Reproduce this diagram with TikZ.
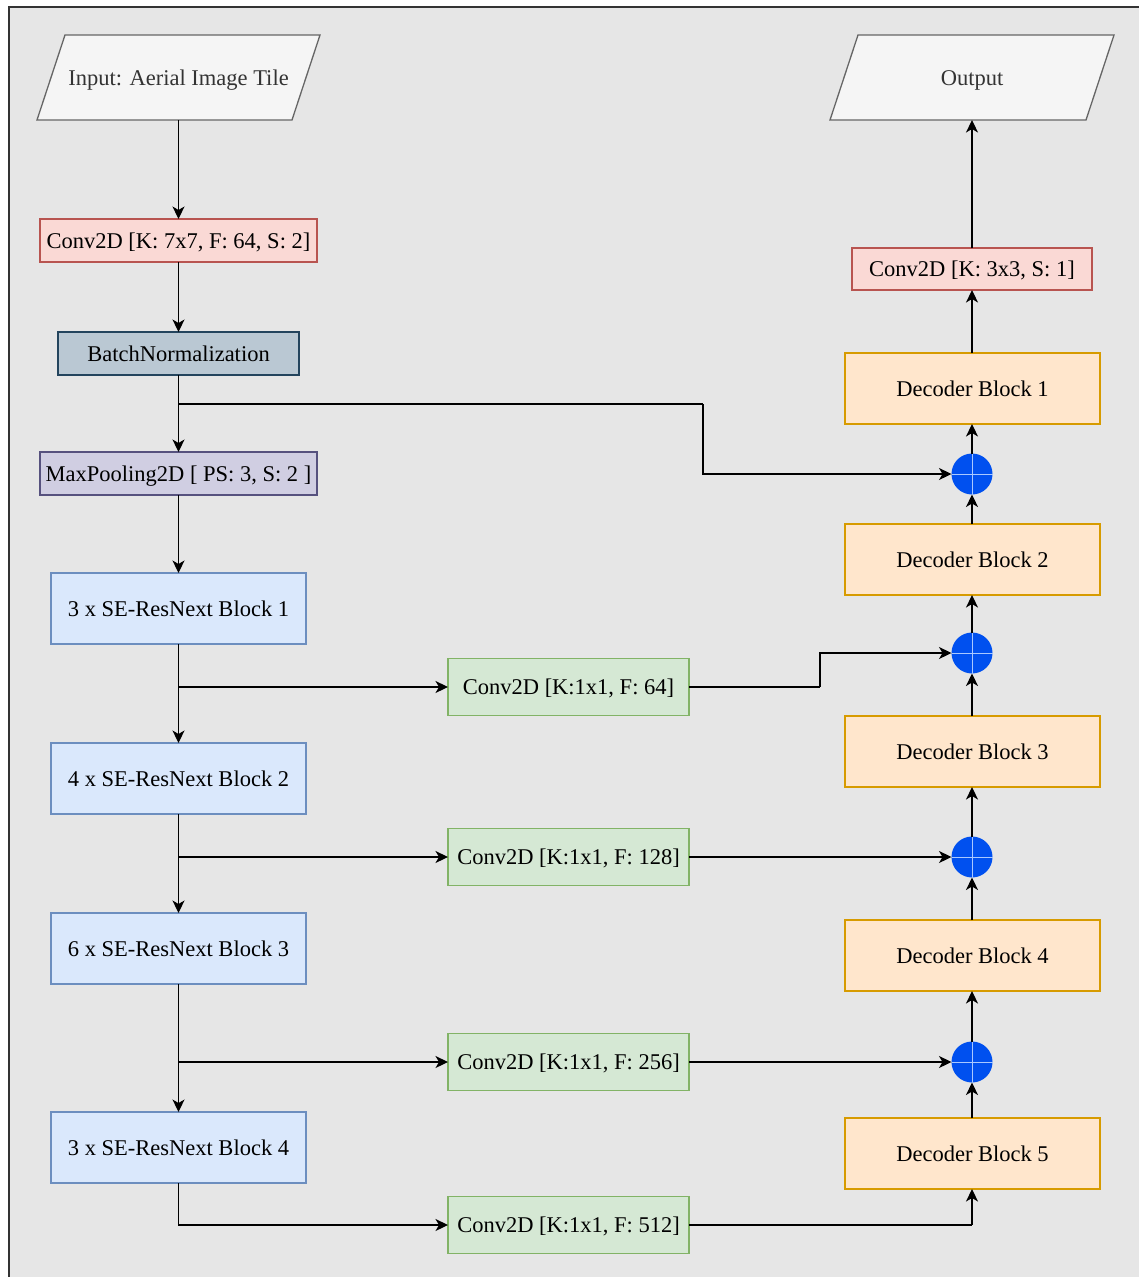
\documentclass[tikz,border=0pt]{standalone}
\usepackage{fontspec}
\setmainfont{Liberation Serif}
\usetikzlibrary{arrows.meta}

\definecolor{canvas}{HTML}{E6E6E6}
\definecolor{frameline}{HTML}{333333}
\definecolor{ioFill}{HTML}{F5F5F5}
\definecolor{ioLine}{HTML}{666666}
\definecolor{ioText}{HTML}{333333}
\definecolor{redFill}{HTML}{FAD9D5}
\definecolor{redLine}{HTML}{B85450}
\definecolor{bnFill}{HTML}{BAC8D3}
\definecolor{bnLine}{HTML}{23445D}
\definecolor{mpFill}{HTML}{D0CEE2}
\definecolor{mpLine}{HTML}{56517E}
\definecolor{seFill}{HTML}{DAE8FC}
\definecolor{seLine}{HTML}{6C8EBF}
\definecolor{grFill}{HTML}{D5E8D4}
\definecolor{grLine}{HTML}{82B366}
\definecolor{decFill}{HTML}{FFE6CC}
\definecolor{decLine}{HTML}{D79B00}
\definecolor{addFill}{HTML}{0050EF}
\definecolor{addCross}{HTML}{A9C8FF}

\tikzset{
  every node/.style={font=\fontsize{22.5}{27}\selectfont, inner sep=0pt, outer sep=0pt,
    text height=18pt, text depth=3pt},
  box/.style={draw, line width=1.3pt, rectangle, align=center},
  convred/.style={box, fill=redFill, draw=redLine, minimum height=43},
  bnbox/.style={box, fill=bnFill, draw=bnLine, minimum width=241, minimum height=43},
  mpbox/.style={box, fill=mpFill, draw=mpLine, minimum width=277, minimum height=43},
  sebox/.style={box, fill=seFill, draw=seLine, minimum width=255, minimum height=71},
  grbox/.style={box, fill=grFill, draw=grLine, minimum width=241, minimum height=57},
  decbox/.style={box, fill=decFill, draw=decLine, minimum width=255, minimum height=71},
  iolabel/.style={text=ioText, minimum width=227, minimum height=85},
  addnode/.style={circle, fill=addFill, minimum size=41},
  arr/.style={line width=1.3pt, draw=black, -{Stealth[length=12.5pt, width=12pt, inset=3.5pt]}},
  link/.style={line width=1.3pt, draw=black},
}

\begin{document}
\begin{tikzpicture}[x=1pt, y=-1pt]
  \useasboundingbox (0,0) rectangle (1139,1277);
  \clip (0,0) rectangle (1139,1277);
  \fill[white] (0,0) rectangle (1139,1277);
  \filldraw[fill=canvas, draw=frameline, line width=1.8pt] (9,7) rectangle (1160,1300);

  % input / output parallelograms
  \filldraw[fill=ioFill, draw=ioLine, line width=1.3pt] (37,120) -- (65,35) -- (320,35) -- (292,120) -- cycle;
  \node[iolabel] (in) at (178.5,77.5) {Input: Aerial Image Tile};
  \filldraw[fill=ioFill, draw=ioLine, line width=1.3pt] (830,120) -- (858,35) -- (1114,35) -- (1086,120) -- cycle;
  \node[iolabel] (out) at (972,77.5) {Output};

  % encoder stem
  \node[convred, minimum width=277] (c7) at (178.5,240.5) {Conv2D [K: 7x7, F: 64, S: 2]};
  \node[bnbox] (bn) at (178.5,353.5) {BatchNormalization};
  \node[mpbox] (mp) at (178.5,473.5) {MaxPooling2D [ PS: 3, S: 2 ]};

  % encoder stages
  \node[sebox] (se1) at (178.5,608.5) {3 x SE-ResNext Block 1};
  \node[sebox] (se2) at (178.5,778.5) {4 x SE-ResNext Block 2};
  \node[sebox] (se3) at (178.5,948.5) {6 x SE-ResNext Block 3};
  \node[sebox] (se4) at (178.5,1147.5) {3 x SE-ResNext Block 4};

  % lateral 1x1 convolutions
  \node[grbox] (g1) at (568.5,687) {Conv2D [K:1x1, F: 64]};
  \node[grbox] (g2) at (568.5,857) {Conv2D [K:1x1, F: 128]};
  \node[grbox] (g3) at (568.5,1062) {Conv2D [K:1x1, F: 256]};
  \node[grbox] (g4) at (568.5,1225) {Conv2D [K:1x1, F: 512]};

  % decoder
  \node[convred, minimum width=240, minimum height=42] (c3) at (972,269) {Conv2D [K: 3x3, S: 1]};
  \node[decbox] (d1) at (972.5,388.5) {Decoder Block 1};
  \node[decbox] (d2) at (972.5,559.5) {Decoder Block 2};
  \node[decbox] (d3) at (972.5,751.5) {Decoder Block 3};
  \node[decbox] (d4) at (972.5,955.5) {Decoder Block 4};
  \node[decbox] (d5) at (972.5,1153.5) {Decoder Block 5};

  % skip-connection adders
  \foreach \n/\y in {a1/474, a2/653, a3/857, a4/1062} {
    \node[addnode] (\n) at (972,\y) {};
    \draw[addCross, line width=1pt] (\n.north) -- (\n.south) (\n.west) -- (\n.east);
  }

  % junction and bend points
  \coordinate (j0) at (178.5,404);
  \coordinate (b0) at (703,404);
  \coordinate (b1) at (820,687);
  \coordinate (b4) at (972,1225);

  % encoder path
  \draw[arr] (in.south) -- (c7.north);
  \draw[arr] (c7.south) -- (bn.north);
  \draw[arr] (bn.south) -- (mp.north);
  \draw[arr] (mp.south) -- (se1.north);
  \draw[arr] (se1.south) -- (se2.north);
  \draw[arr] (se2.south) -- (se3.north);
  \draw[arr] (se3.south) -- (se4.north);

  % skip connections
  \draw[link] (j0) -- (b0);
  \draw[arr] (b0) |- (a1.west);
  \draw[arr] (g1.west -| se1.south) -- (g1.west);
  \draw[link] (g1.east) -- (b1);
  \draw[arr] (b1) |- (a2.west);
  \draw[arr] (g2.west -| se2.south) -- (g2.west);
  \draw[arr] (g2.east) -- (a3.west);
  \draw[arr] (g3.west -| se3.south) -- (g3.west);
  \draw[arr] (g3.east) -- (a4.west);
  \draw[arr] (se4.south) |- (g4.west);
  \draw[link] (g4.east) -- (b4);
  \draw[arr] (b4) -- (b4 |- d5.south);

  % decoder path
  \draw[arr] (d5.north -| a4) -- (a4.south);
  \draw[arr] (a4.north) -- (a4 |- d4.south);
  \draw[arr] (a4 |- d4.north) -- (a3.south);
  \draw[arr] (a3.north) -- (a3 |- d3.south);
  \draw[arr] (a3 |- d3.north) -- (a2.south);
  \draw[arr] (a2.north) -- (a2 |- d2.south);
  \draw[arr] (a2 |- d2.north) -- (a1.south);
  \draw[arr] (a1.north) -- (a1 |- d1.south);
  \draw[arr] (a1 |- d1.north) -- (c3.south);
  \draw[arr] (c3.north) -- (out.south);
\end{tikzpicture}
\end{document}
